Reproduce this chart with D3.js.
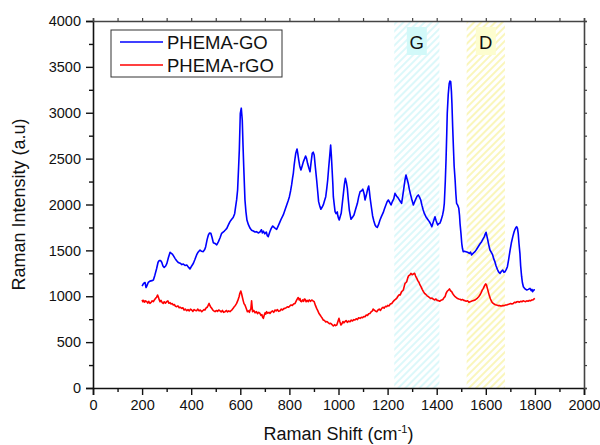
<!DOCTYPE html>
<html><head><meta charset="utf-8">
<script src="https://cdn.jsdelivr.net/npm/d3@7"></script>
<style>
html,body{margin:0;padding:0;background:#fff;}
svg{display:block;font-family:"Liberation Sans",Arial,sans-serif;}
</style></head>
<body><svg id="chart" width="600" height="445"></svg>
<script>
// ---- data ----
const seriesNames = ["PHEMA-GO", "PHEMA-rGO"];
const seriesColors = ["#0000ff", "#ff0000"];
const xTicks = [0,200,400,600,800,1000,1200,1400,1600,1800,2000];
const yTicks = [0,500,1000,1500,2000,2500,3000,3500,4000];
const bandNames = ["G", "D"];
const bandStart = [1227, 1522];
const bandEnd = [1411, 1678];

const goShift = [200,206,212,216,219,225,232,240,246,252,259,265,270,275,280,285,290,296,301,307,314,318,323,328,334,340,347,355,362,368,375,382,388,395,402,409,415,422,428,436,442,449,455,459,465,470,475,480,485,490,497,504,511,518,524,530,535,540,545,552,558,565,571,577,581,585,589,593,596,600,604,608,611,614,619,623,627,633,640,646,653,660,666,673,680,686,690,694,700,706,710,714,720,726,732,740,748,755,762,768,775,782,789,795,800,805,809,813,816,819,822,826,831,834,838,842,847,852,857,862,866,870,874,879,884,888,893,897,901,906,911,915,919,924,928,933,938,943,948,952,956,960,964,968,971,974,977,979,983,986,990,995,997,1000,1003,1007,1011,1015,1020,1024,1028,1032,1036,1040,1044,1048,1051,1057,1063,1070,1077,1082,1088,1094,1099,1104,1108,1112,1115,1119,1123,1126,1129,1134,1139,1144,1149,1153,1158,1163,1169,1175,1182,1187,1193,1198,1203,1209,1214,1219,1225,1230,1237,1244,1250,1257,1262,1267,1271,1275,1279,1284,1289,1294,1300,1305,1310,1316,1320,1325,1330,1335,1340,1345,1350,1356,1363,1370,1375,1380,1386,1393,1398,1404,1408,1413,1418,1424,1428,1431,1435,1438,1441,1443,1447,1451,1454,1457,1460,1462,1465,1468,1471,1475,1478,1481,1486,1490,1493,1495,1499,1502,1505,1508,1513,1519,1526,1533,1538,1542,1549,1556,1562,1569,1576,1583,1589,1594,1598,1601,1605,1608,1612,1617,1622,1628,1632,1637,1642,1647,1652,1658,1663,1669,1674,1678,1683,1688,1693,1699,1704,1710,1715,1719,1723,1726,1729,1732,1735,1739,1742,1746,1749,1753,1760,1767,1773,1780,1785,1788,1791,1796,1800];
const goIntensity = [1110,1140,1150,1095,1110,1150,1165,1170,1177,1230,1300,1370,1390,1390,1370,1330,1315,1330,1358,1420,1480,1470,1460,1440,1413,1390,1369,1360,1345,1351,1335,1340,1320,1297,1330,1360,1400,1450,1480,1504,1490,1486,1510,1540,1620,1668,1690,1686,1640,1584,1575,1560,1595,1640,1686,1700,1711,1725,1740,1780,1813,1840,1859,1900,1977,2050,2158,2400,2594,2994,3050,2921,2650,2412,2049,1920,1831,1780,1740,1720,1711,1700,1704,1690,1700,1725,1690,1710,1680,1700,1660,1650,1700,1740,1766,1745,1729,1770,1813,1850,1886,1940,1995,2040,2085,2150,2213,2290,2340,2420,2485,2560,2605,2560,2485,2420,2376,2420,2467,2500,2529,2500,2449,2400,2358,2450,2558,2570,2539,2400,2267,2150,2031,1980,1948,1970,1995,2040,2085,2170,2267,2400,2522,2649,2530,2376,2220,2085,1990,1922,1900,1920,1880,1850,1831,1870,1904,2000,2121,2220,2285,2240,2176,2050,1940,1880,1839,1860,1886,1950,2013,2080,2140,2150,2167,2120,2049,2090,2121,2170,2202,2140,2067,1970,1875,1820,1777,1760,1750,1780,1831,1870,1911,1950,1995,2030,2049,2020,1995,2030,2060,2122,2090,2067,2040,2013,2100,2195,2270,2322,2280,2231,2160,2104,2040,1995,2030,2067,2090,2104,2080,2049,1990,1940,1900,1867,1840,1813,1790,1758,1810,1867,1820,1777,1790,1795,1830,1886,1940,2013,2250,2485,2780,2994,3200,3320,3345,3339,3230,3103,2850,2630,2420,2267,2120,2013,1990,1958,1880,1795,1680,1577,1520,1486,1490,1486,1480,1468,1480,1450,1470,1486,1510,1540,1570,1595,1625,1650,1680,1697,1650,1613,1560,1504,1480,1450,1410,1377,1330,1294,1265,1249,1270,1286,1260,1267,1290,1322,1400,1504,1580,1650,1700,1730,1750,1758,1740,1686,1580,1468,1330,1213,1150,1104,1080,1068,1075,1086,1060,1075,1050,1070,1068];

const rgoShift = [200,203,206,210,214,219,223,227,232,237,241,246,250,255,259,263,267,270,273,277,282,286,290,295,300,305,309,314,318,323,327,332,336,341,346,351,356,361,366,371,376,382,387,392,397,402,407,412,417,422,427,432,437,443,448,452,456,460,465,469,473,476,480,484,488,492,497,502,507,512,517,522,527,532,538,543,548,553,558,563,567,571,575,580,585,590,595,598,602,605,608,612,615,619,624,629,634,637,640,643,646,648,650,655,660,666,670,675,680,684,688,691,694,697,701,704,707,712,717,721,726,731,736,741,746,751,756,762,767,772,777,782,787,792,797,802,807,812,817,823,827,830,833,836,840,843,846,850,854,858,861,864,868,872,877,881,886,891,896,901,906,911,916,920,925,930,934,938,943,948,953,958,963,968,974,979,984,988,993,997,1002,1006,1010,1014,1018,1022,1026,1031,1036,1041,1047,1052,1057,1062,1067,1072,1077,1082,1088,1093,1098,1103,1108,1113,1118,1123,1128,1133,1138,1141,1145,1150,1156,1161,1166,1171,1176,1181,1186,1191,1196,1201,1206,1211,1217,1222,1227,1232,1237,1242,1247,1251,1257,1261,1264,1268,1271,1275,1278,1282,1286,1291,1295,1300,1305,1310,1314,1319,1323,1328,1332,1337,1341,1346,1351,1356,1361,1366,1371,1376,1381,1387,1392,1397,1402,1407,1412,1416,1420,1425,1430,1434,1438,1443,1448,1452,1456,1461,1465,1470,1475,1480,1485,1490,1495,1500,1505,1510,1515,1520,1526,1531,1536,1541,1546,1551,1556,1561,1566,1571,1576,1581,1586,1590,1594,1598,1600,1603,1607,1610,1614,1619,1624,1629,1634,1639,1644,1650,1655,1660,1665,1670,1675,1680,1685,1690,1696,1701,1706,1712,1717,1722,1727,1732,1737,1742,1747,1752,1757,1762,1767,1772,1777,1782,1787,1792,1796,1800];
const rgoIntensity = [960,940,955,935,950,941,925,945,922,935,950,941,960,977,990,1013,985,960,941,955,930,922,940,925,941,950,925,930,915,920,905,910,890,886,895,875,880,868,875,850,860,842,855,840,860,850,835,855,845,842,860,840,850,832,845,855,850,870,880,900,922,900,880,868,850,840,832,845,835,850,842,830,845,825,832,845,830,840,832,845,855,868,885,900,922,955,995,1030,1057,1030,995,950,920,905,870,832,840,825,850,860,950,890,832,845,820,832,810,825,813,790,800,770,759,790,820,805,832,815,825,813,830,840,825,850,840,855,835,842,860,850,865,868,875,885,880,894,905,900,915,922,945,960,975,986,960,975,945,941,960,945,970,967,940,955,941,960,945,959,950,941,900,868,840,815,796,775,760,741,735,720,725,712,700,705,690,676,690,680,687,720,759,720,687,700,725,710,723,735,715,730,723,740,730,745,741,755,745,765,759,770,765,780,777,795,790,810,813,830,840,860,850,840,832,850,860,845,868,880,870,890,886,900,895,915,922,940,955,965,977,1000,1015,1013,1050,1060,1068,1110,1140,1150,1159,1200,1225,1232,1250,1235,1243,1250,1220,1195,1170,1150,1123,1100,1075,1050,1030,1020,1005,995,985,975,980,967,960,970,955,952,945,955,959,965,985,995,1030,1055,1068,1080,1060,1050,1030,1010,995,985,975,970,967,960,965,955,952,945,950,935,941,945,950,955,959,970,980,995,1013,1040,1070,1086,1110,1130,1134,1120,1080,1050,1010,970,941,925,915,908,905,898,900,895,894,900,898,905,905,910,915,920,915,922,935,930,940,941,935,945,940,950,945,941,950,945,955,950,959,960,970,977];

// ---- layout ----
const svg = d3.select("#chart");
const L = 93, R = 584, T = 21, B = 388;
const x = d3.scaleLinear().domain([0, 2000]).range([L, R]);
const y = d3.scaleLinear().domain([0, 4000]).range([B, T]);
const font = '"Liberation Sans", Arial, sans-serif';

// hatch patterns
const defs = svg.append("defs");
const hatchColors = ["#c4f4f7", "#f7f08e"];
const labelBg = ["#d2f9f9", "#fdfdcf"];
bandNames.forEach((n, i) => {
  const p = defs.append("pattern").attr("id", "hatch" + i)
    .attr("patternUnits", "userSpaceOnUse").attr("width", 5).attr("height", 5)
    .attr("patternTransform", "rotate(45)");
  p.append("line").attr("x1", 1).attr("y1", 0).attr("x2", 1).attr("y2", 5)
    .attr("stroke", hatchColors[i]).attr("stroke-width", 1.2);
});

// bands
bandNames.forEach((n, i) => {
  svg.append("rect").attr("x", x(bandStart[i])).attr("y", T)
    .attr("width", x(bandEnd[i]) - x(bandStart[i])).attr("height", B - T)
    .attr("fill", "url(#hatch" + i + ")");
  const cx = x((bandStart[i] + bandEnd[i]) / 2);
  svg.append("rect").attr("x", cx - 10).attr("y", 27).attr("width", 20).attr("height", 28)
    .attr("fill", labelBg[i]);
  svg.append("text").attr("x", cx).attr("y", 48.5).attr("text-anchor", "middle")
    .attr("font-size", 18.5).attr("fill", "#111").text(n);
});

// lines
const line = d3.line().x(d => x(d[0])).y(d => y(d[1]));
const goData = goShift.map((v, i) => [v, goIntensity[i]]);
const rgoData = rgoShift.map((v, i) => [v, rgoIntensity[i]]);
[goData, rgoData].forEach((data, i) => {
  svg.append("path").datum(data).attr("d", line).attr("fill", "none")
    .attr("stroke", seriesColors[i]).attr("stroke-width", 1.6).attr("stroke-linejoin", "round");
});

// axes
const axisColor = "#111";
const xMinor = d3.range(0, 2001, 100);
const yMinor = d3.range(0, 4001, 250);
const gx = svg.append("g").attr("transform", `translate(0,${B})`)
  .call(d3.axisBottom(x).tickValues(xTicks).tickSize(7).tickPadding(5).tickFormat(d3.format("d")));
const gxm = svg.append("g").attr("transform", `translate(0,${B})`)
  .call(d3.axisBottom(x).tickValues(xMinor.filter(v => v % 200)).tickSize(4).tickFormat(""));
const gy = svg.append("g").attr("transform", `translate(${L},0)`)
  .call(d3.axisLeft(y).tickValues(yTicks).tickSize(7).tickPadding(5).tickFormat(d3.format("d")));
const gym = svg.append("g").attr("transform", `translate(${L},0)`)
  .call(d3.axisLeft(y).tickValues(yMinor.filter(v => v % 500)).tickSize(4).tickFormat(""));
const gt = svg.append("g").attr("transform", `translate(0,${T})`)
  .call(d3.axisTop(x).tickValues(xMinor).tickSize(3).tickFormat(""));
const gr = svg.append("g").attr("transform", `translate(${R},0)`)
  .call(d3.axisRight(y).tickValues(yMinor).tickSize(3).tickFormat(""));
[gx, gxm, gy, gym].forEach(g => {
  g.select(".domain").attr("stroke", axisColor).attr("stroke-width", 1.6);
  g.selectAll(".tick line").attr("stroke", axisColor).attr("stroke-width", 1.4);
  g.selectAll("text").attr("font-size", 14.5).attr("font-family", font).attr("fill", "#111");
});
[gt, gr].forEach(g => {
  g.select(".domain").attr("stroke", "#444").attr("stroke-width", 1.6);
  g.selectAll(".tick line").attr("stroke", "#444").attr("stroke-width", 1.2);
});
gxm.select(".domain").remove(); gym.select(".domain").remove();

// axis titles
svg.append("text").attr("x", (L + R) / 2).attr("y", 440).attr("text-anchor", "middle")
  .attr("font-size", 18).attr("fill", "#111")
  .html('Raman Shift (cm<tspan dy="-7" font-size="11">-1</tspan><tspan dy="7">)</tspan>');
svg.append("text").attr("transform", `translate(25,${(T + B) / 2}) rotate(-90)`)
  .attr("text-anchor", "middle").attr("font-size", 18).attr("fill", "#111")
  .text("Raman Intensity (a.u)");

// legend
const lg = svg.append("g");
lg.append("rect").attr("x", 111).attr("y", 30).attr("width", 171).attr("height", 47)
  .attr("fill", "#fff").attr("stroke", "#333").attr("stroke-width", 1);
seriesNames.forEach((n, i) => {
  const ly = 42 + i * 23;
  lg.append("line").attr("x1", 120).attr("x2", 163).attr("y1", ly).attr("y2", ly)
    .attr("stroke", seriesColors[i]).attr("stroke-width", 1.5);
  lg.append("text").attr("x", 167).attr("y", ly + 7).attr("font-size", 18.5)
    .attr("fill", "#111").text(n);
});
</script></body></html>
